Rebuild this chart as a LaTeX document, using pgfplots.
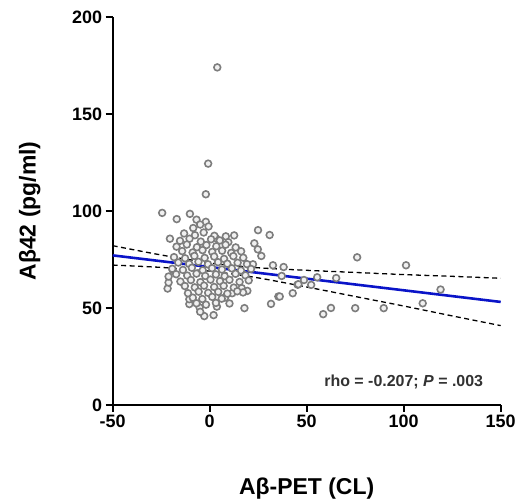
\documentclass[border=0pt]{standalone}
\usepackage{fontspec}
\setmainfont{Liberation Sans}
\usepackage{pgfplots}
\pgfplotsset{compat=1.18}
\definecolor{ptgray}{RGB}{125,125,125}
\definecolor{ptfill}{RGB}{240,240,240}
\definecolor{fitblue}{RGB}{10,20,200}
\definecolor{annot}{RGB}{50,50,50}
\begin{document}
\begin{tikzpicture}
\begin{axis}[
  scale only axis,
  width=389pt, height=389pt,
  xmin=-50, xmax=150, ymin=0, ymax=200,
  xtick={-50,0,50,100,150},
  ytick={0,50,100,150,200},
  axis lines=left,
  axis line style={-, line width=2pt},
  tick align=outside,
  major tick length=7pt,
  tick style={line width=2pt, black},
  /pgf/number format/assume math mode=true,
  ticklabel style={font=\fontsize{18}{20}\selectfont\bfseries},
  clip=false,
  xlabel={Aβ-PET (CL)},
  ylabel={Aβ42 (pg/ml)},
  every axis x label/.style={at={(axis description cs:0.5,-0.216)}, anchor=center, font=\fontsize{23}{25}\selectfont\bfseries},
  every axis y label/.style={at={(axis description cs:-0.214,0.5)}, rotate=90, anchor=center, font=\fontsize{23}{25}\selectfont\bfseries},
]
% page margins as in the reference
\path (rel axis cs:0,0) ++(-113pt,-96pt) coordinate (bbsw);
\path (rel axis cs:1,1) ++(17pt,17pt) coordinate (bbne);
% individual values
\addplot[only marks, mark=*, mark size=3.4pt, mark options={draw=ptgray, fill=ptfill, line width=1.6pt}] coordinates {
  (3.9,174) (-0.8,124.4) (-2,108.6) (-24.5,99) (-17,95.8) (-10.2,98.5)
  (-6.8,95.5) (-2,94.4) (-4.9,93) (-0.6,92) (-8.5,91.2) (-20.5,85.7)
  (3.2,86) (8.3,86.9) (12.6,87.4) (24.9,90.1) (30.9,87.6) (23,83.3)
  (24.8,80.2) (26.6,76.8) (22.3,72.5) (32.6,72) (38.1,71.1) (37.1,66.5)
  (45.3,62) (42.8,57.6) (35.4,55.9) (31.6,52.1) (17.9,49.9) (2,46.3)
  (-2.8,45.8) (3.7,50.7) (10.2,52.3) (-10.5,52) (-10.5,54.5) (-5.2,50.2)
  (-4.9,48) (-21.7,60) (-21.2,63.1) (-21.2,66.2) (-19.1,69.6) (19.4,58.8)
  (16.5,60.2) (17.2,58) (11.6,57.6) (8,55.4)
  (76,76.1) (101.2,72) (119,59.5) (109.8,52.4) (89.7,49.9) (75,49.9)
  (62.5,50) (58.5,46.8) (65.2,65.4) (55.4,65.8) (52.3,61.9) (48.6,64.4)
  (45.7,62.2) (36.1,55.9)
  (-13.2,88.4) (-7.6,87.5) (-3.1,88.9) (2.4,87.2)
  (-15.3,84.6) (-10.4,85.7) (-4.6,84.2) (0.7,85.4) (5.2,84.8) (9.6,83.9)
  (-17.1,81.6) (-11.8,82.7) (-6.6,81.3) (-1.7,82.4) (3.4,81.8) (8.2,82.6) (13.4,81.2)
  (-14.2,79.3) (-8.8,78.6) (-3.7,79.8) (1.3,78.9) (6.4,79.5) (11.1,78.4) (16.2,79.2)
  (-18.4,76.2) (-12.7,75.6) (-7.9,76.8) (-2.6,75.8) (2.3,76.5) (7.4,75.3) (12.2,76.7) (17.3,75.9)
  (-16.2,73.4) (-10.6,72.7) (-5.8,73.8) (-0.9,72.5) (4.3,73.6) (9.1,72.8) (14.4,73.3) (19.2,72.6)
  (-19.3,70.2) (-13.8,69.6) (-9.2,70.7) (-3.6,69.4) (1.2,70.5) (6.3,69.8) (11.4,70.4) (16.1,69.3) (21.3,70.1)
  (-17.3,67.4) (-11.6,66.7) (-6.8,67.7) (-2.3,66.5) (3.2,67.3) (7.7,66.4) (13.3,67.6) (18.4,66.8)
  (-15.1,63.6) (-9.7,64.4) (-4.8,63.3) (0.4,64.6) (5.3,63.8) (10.2,64.5) (15.4,63.4) (20.1,64.2)
  (-12.8,61.3) (-7.7,60.6) (-2.9,61.5) (2.3,60.8) (7.2,61.4) (12.4,60.5)
  (-11.2,57.6) (-5.7,58.4) (-0.8,57.8) (4.4,58.3) (9.1,57.4) (14.2,58.6)
  (-8.7,55.3) (-3.8,54.6) (1.3,55.7) (6.2,54.8)
  (-6.8,52.4) (-1.9,51.7) (3.2,52.6)
};
% regression line
\addplot[fitblue, line width=2.6pt] coordinates {(-50,77.1) (150,53.1)};
% 95% confidence bands
\addplot[black, dash pattern=on 5pt off 3.5pt, line width=1.3pt, smooth] coordinates {
  (-50,82.1) (-25,77.3) (0,73.2) (5,72.55) (25,70.7) (50,69.4) (75,68.3) (100,67.2) (125,66.3) (150,65.3)};
\addplot[black, dash pattern=on 5pt off 3.5pt, line width=1.3pt, smooth] coordinates {
  (-50,72.1) (-25,70.9) (0,69.0) (5,68.45) (25,65.5) (50,60.8) (75,55.9) (100,51.0) (125,45.9) (150,40.9)};
\node[font=\fontsize{16}{18}\selectfont\bfseries, text=annot] at (axis cs:100,12) {rho = -0.207; \textit{P} = .003};
\end{axis}
\path (bbsw) rectangle (bbne);
\end{tikzpicture}
\end{document}
